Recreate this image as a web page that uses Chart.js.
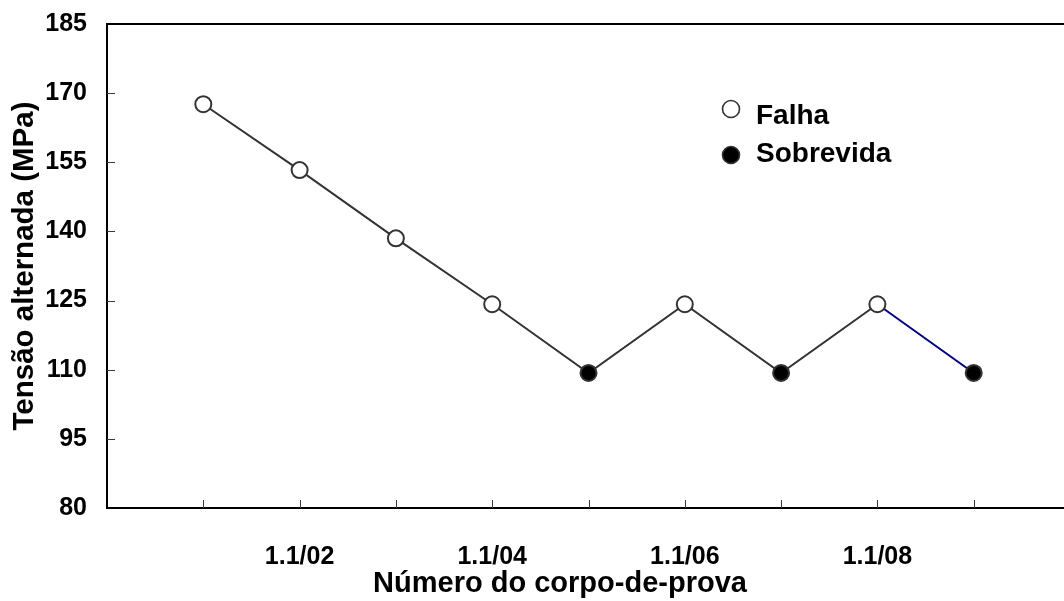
<!DOCTYPE html>
<html>
<head>
<meta charset="utf-8">
<script src="https://cdn.jsdelivr.net/npm/chart.js@4/dist/chart.umd.min.js"></script>
<style>
  html, body { margin: 0; padding: 0; background: #fff; overflow: hidden; }
  #wrap { width: 1070px; height: 601px; }
</style>
</head>
<body>
<div id="wrap"><canvas id="c" width="1070" height="601"></canvas></div>
<script>
// Specimen identifiers along the horizontal axis
const specimens = ['1.1/01', '1.1/02', '1.1/03', '1.1/04', '1.1/05', '1.1/06', '1.1/07', '1.1/08', '1.1/09'];
// Alternating stress applied to each specimen (MPa)
const stress = [167.6, 153.3, 138.5, 124.2, 109.3, 124.2, 109.3, 124.2, 109.3];
// Test outcome per specimen
const outcome = ['Falha', 'Falha', 'Falha', 'Falha', 'Sobrevida', 'Falha', 'Sobrevida', 'Falha', 'Sobrevida'];
// Vertical axis ticks
const yTickValues = [80, 95, 110, 125, 140, 155, 170, 185];

const yTitle = 'Tensão alternada (MPa)';
const xTitle = 'Número do corpo-de-prova';
const FONT = "'Liberation Sans', Arial, Helvetica, sans-serif";

const points = specimens.map((s, i) => ({ x: i + 1, y: stress[i] }));
const pointsFor = label => points.filter((p, i) => outcome[i] === label);

const markerStyle = {
  Falha:     { fill: '#ffffff', stroke: '#333333' },
  Sobrevida: { fill: '#000000', stroke: '#333333' }
};

// Legend placement inside the plot
const legendBox = { x: 731, markerY: [109, 155], textX: 756, textBaseline: [124, 162] };

// Inner tick marks, top frame line, legend and horizontal axis title
const framePlugin = {
  id: 'frame',
  beforeDatasetsDraw(chart) {
    const { ctx, chartArea: a, scales: { x, y } } = chart;
    ctx.save();
    ctx.strokeStyle = '#3a3a3a';
    ctx.lineWidth = 1;
    y.ticks.forEach(t => {
      if (t.value <= y.min || t.value >= y.max) return;
      const py = Math.round(y.getPixelForValue(t.value)) + 0.5;
      ctx.beginPath(); ctx.moveTo(a.left, py); ctx.lineTo(a.left + 8, py); ctx.stroke();
    });
    x.ticks.forEach(t => {
      if (t.value <= x.min || t.value >= x.max) return;
      const px = Math.round(x.getPixelForValue(t.value)) + 0.5;
      ctx.beginPath(); ctx.moveTo(px, a.bottom); ctx.lineTo(px, a.bottom - 8); ctx.stroke();
    });
    ctx.strokeStyle = '#000';
    ctx.lineWidth = 2;
    ctx.beginPath(); ctx.moveTo(a.left - 1, a.top); ctx.lineTo(a.right, a.top); ctx.stroke();
    ctx.restore();
  },
  afterDraw(chart) {
    const { ctx } = chart;
    ctx.save();
    // legend
    const items = chart.data.datasets.filter(d => d.inLegend);
    items.forEach((d, i) => {
      ctx.beginPath();
      ctx.arc(legendBox.x, legendBox.markerY[i], 8.5, 0, Math.PI * 2);
      ctx.fillStyle = d.pointBackgroundColor;
      ctx.fill();
      ctx.lineWidth = 1.6;
      ctx.strokeStyle = d.pointBorderColor;
      ctx.stroke();
      ctx.fillStyle = '#000';
      ctx.font = 'bold 28px ' + FONT;
      ctx.textAlign = 'left';
      ctx.textBaseline = 'alphabetic';
      ctx.fillText(d.label, legendBox.textX, legendBox.textBaseline[i]);
    });
    // horizontal axis title
    ctx.font = 'bold 29px ' + FONT;
    ctx.textAlign = 'center';
    ctx.textBaseline = 'alphabetic';
    ctx.fillStyle = '#000';
    ctx.fillText(xTitle, 560, 592);
    ctx.restore();
  }
};

new Chart(document.getElementById('c'), {
  type: 'scatter',
  data: {
    datasets: [
      {
        label: 'Falha',
        inLegend: true,
        data: pointsFor('Falha'),
        showLine: false,
        pointRadius: 8,
        pointBorderWidth: 2,
        pointBackgroundColor: markerStyle.Falha.fill,
        pointBorderColor: markerStyle.Falha.stroke
      },
      {
        label: 'Sobrevida',
        inLegend: true,
        data: pointsFor('Sobrevida'),
        showLine: false,
        pointRadius: 8,
        pointBorderWidth: 2,
        pointBackgroundColor: markerStyle.Sobrevida.fill,
        pointBorderColor: markerStyle.Sobrevida.stroke
      },
      {
        label: 'sequência',
        data: points,
        showLine: true,
        pointRadius: 0,
        borderWidth: 2,
        borderColor: '#333333',
        segment: {
          borderColor: c => (c.p1DataIndex === points.length - 1 ? '#000080' : '#333333')
        }
      }
    ]
  },
  options: {
    responsive: false,
    animation: false,
    events: [],
    layout: { autoPadding: false, padding: { top: 24, left: 0, right: 0, bottom: 0 } },
    plugins: { legend: { display: false }, tooltip: { enabled: false } },
    scales: {
      x: {
        type: 'linear',
        min: 0,
        max: 10,
        afterBuildTicks: s => { s.ticks = Array.from({ length: 11 }, (_, i) => ({ value: i })); },
        afterFit: s => { s.height = 93; s.paddingLeft = 0; s.paddingRight = 0; },
        grid: { display: true, drawOnChartArea: false, drawTicks: false },
        border: { display: true, color: '#000', width: 2 },
        ticks: {
          padding: 34,
          color: '#000',
          font: { family: FONT, size: 25, weight: 'bold' },
          maxRotation: 0,
          autoSkip: false,
          callback: v => (v >= 1 && v <= specimens.length && v % 2 === 0 ? specimens[v - 1] : '')
        }
      },
      y: {
        min: 80,
        max: 185,
        afterBuildTicks: s => { s.ticks = yTickValues.map(v => ({ value: v })); },
        afterFit: s => { s.width = 107; s.paddingTop = 0; s.paddingBottom = 0; },
        grid: { display: true, drawOnChartArea: false, drawTicks: false },
        border: { display: true, color: '#000', width: 2 },
        ticks: {
          padding: 20,
          color: '#000',
          font: { family: FONT, size: 25, weight: 'bold' }
        },
        title: {
          display: true,
          text: yTitle,
          color: '#000',
          font: { family: FONT, size: 29.5, weight: 'bold' },
          padding: { top: 7, bottom: 0 }
        }
      }
    }
  },
  plugins: [framePlugin]
});
</script>
</body>
</html>
